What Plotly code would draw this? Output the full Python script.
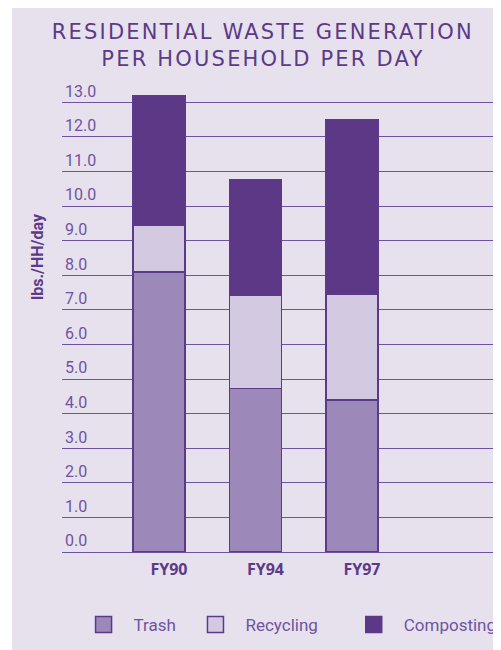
import plotly.graph_objects as go

# values (lbs per household per day)
years = ['FY90', 'FY94', 'FY97']
trash = [8.10, 4.73, 4.39]
recycling = [1.35, 2.68, 3.07]
composting = [3.75, 3.36, 5.02]

series = [
    ('Trash', trash, '#9D89B9'),
    ('Recycling', recycling, '#D3CAE1'),
    ('Composting', composting, '#5C3886'),
]

outline = '#5C3A8A'
text_col = '#5C3A88'
tick_col = '#6E54A0'
bg = '#E7E1EE'

W, H = 493, 642          # page body adds an 8px margin
L, B, T = 54, 98, 70
ph = H - B - T

fig = go.Figure()

for name, vals, col in series:
    fig.add_trace(go.Bar(
        x=years, y=vals, name=name, showlegend=False,
        marker=dict(color=col, line=dict(color=outline, width=1.5)),
        width=0.54,
    ))

# one legend per entry so each key can sit where the original has it
legend_x = [0.133, 0.360, 0.681]
leg_font = dict(family='Roboto', size=17, color=tick_col)
for i, (name, vals, col) in enumerate(series):
    lid = 'legend' if i == 0 else f'legend{i + 1}'
    fig.add_trace(go.Scatter(
        x=[None], y=[None], mode='markers', name=name, legend=lid,
        marker=dict(symbol='square', size=22, color=col,
                    line=dict(color=outline, width=1.5)),
    ))
    fig.update_layout({lid: dict(
        orientation='h', xref='container', yref='container',
        x=legend_x[i], y=0.039, xanchor='left', yanchor='middle',
        itemwidth=50, font=leg_font, bgcolor='rgba(0,0,0,0)',
    )})

fig.update_layout(
    width=W, height=H,
    barmode='stack',
    paper_bgcolor='white',
    plot_bgcolor=bg,
    margin=dict(l=L, r=0, t=T, b=B),
    title=dict(
        text='<span style="letter-spacing:2.2px">RESIDENTIAL WASTE GENERATION</span><br>'
             '<span style="letter-spacing:2.2px">PER HOUSEHOLD PER DAY</span>',
        x=0.517, xref='container', xanchor='center',
        y=0.952, yref='container', yanchor='top',
        font=dict(family='DejaVu Sans', size=21, color=text_col),
    ),
    shapes=[dict(
        type='rect', xref='paper', yref='paper', layer='below',
        x0=-50 / 439, x1=1.0, y0=-B / ph, y1=1.2,
        fillcolor=bg, line=dict(width=0),
    )],
    annotations=[dict(
        text='lbs./HH/day', textangle=-90, showarrow=False,
        xref='paper', yref='paper', x=-25 / 439, y=(544 - 249) / ph,
        xanchor='center', yanchor='middle',
        font=dict(family='Roboto', size=16, color=text_col, weight='bold'),
    )],
)

fig.update_xaxes(
    range=[-1.005, 3.545],
    showgrid=False, zeroline=False, showline=False,
    ticks='', ticklabelstandoff=6, ticklabelshift=10,
    tickfont=dict(family='Open Sans', size=16, color=text_col, weight='bold'),
)

fig.update_yaxes(
    range=[0, 13.7], dtick=1, tickformat='.1f',
    ticklabelposition='inside top',
    showgrid=True, gridcolor=tick_col, gridwidth=1.3,
    zeroline=True, zerolinecolor=tick_col, zerolinewidth=1.3,
    showline=False, ticks='',
    tickfont=dict(family='Roboto', size=16, color=tick_col),
)

fig.write_html('out.html')
